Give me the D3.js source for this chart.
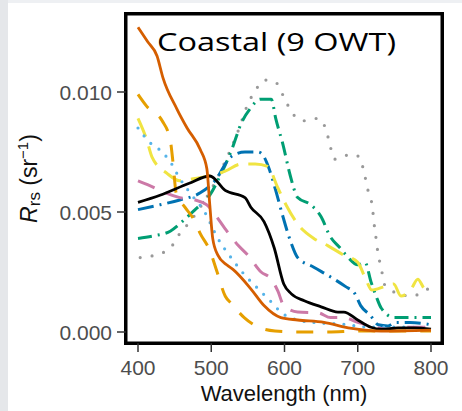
<!DOCTYPE html>
<html>
<head>
<meta charset="utf-8">
<script src="https://cdn.jsdelivr.net/npm/d3@7"></script>
<style>
  html, body { margin: 0; padding: 0; background: #fff; }
  svg { display: block; }
</style>
</head>
<body>
<svg id="chart" width="462" height="411"></svg>
<script>
// tick values
const xTicks = [400, 500, 600, 700, 800];
const yTicks = [0, 0.005, 0.010];

// one [wavelength, Rrs] list per water type
const rrsGray = [[403,.0031],[423,.0032],[444,.0035],[457,.0041],[471,.0046],[485,.0052],[501,.006],[519,.0071],[537,.0084],[550,.0095],[561,.0101],[572,.0105],[588,.0104],[599,.0098],[609,.0092],[625,.0088],[646,.0089],[657,.0084],[662,.0078],[668,.0072],[691,.0074],[702,.0073],[709,.0066],[714,.0059],[720,.0052],[722,.0046],[725,.0039],[728,.0032],[732,.0027],[736,.002],[755,.0016],[773,.0015],[796,.0018]];
const rrsGreen = [[400,.0039],[420,.004],[444,.0042],[464,.0047],[478,.0051],[498,.0057],[512,.0065],[528,.0076],[541,.0087],[553,.0093],[567,.0097],[582,.0097],[588,.0089],[598,.0078],[608,.0065],[618,.0056],[636,.0053],[650,.0048],[662,.004],[676,.0035],[687,.0031],[700,.0028],[710,.0029],[718,.0021],[725,.0015],[732,.001],[750,.0006],[771,.0006],[800,.0006]];
const rrsBlue = [[400,.0051],[430,.0053],[457,.0055],[485,.0058],[505,.0063],[527,.0073],[546,.0075],[564,.0075],[572,.0073],[579,.0068],[588,.0059],[597,.0049],[608,.0038],[618,.0031],[640,.0027],[668,.0022],[683,.0019],[696,.0016],[704,.0011],[717,.0007],[728,.0003],[741,.00025],[752,.0004],[771,.0004],[800,.0003]];
const rrsYellow = [[400,.0089],[412,.008],[419,.0073],[440,.0066],[457,.0063],[478,.0064],[498,.0065],[519,.0067],[541,.007],[560,.007],[577,.0069],[591,.006],[602,.0053],[618,.0045],[640,.0039],[659,.0036],[681,.0032],[700,.0029],[711,.0022],[719,.00175],[737,.0019],[749,.002],[759,.0015],[773,.0018],[782,.0022],[792,.0018],[800,.002]];
const rrsSky = [[400,.0085],[416,.0079],[433,.0075],[446,.007],[455,.0065],[471,.0058],[491,.005],[509,.0039],[527,.0031],[545,.0024],[564,.0018],[582,.00125],[595,.00083],[618,.0005],[646,.00038],[677,.00033],[718,.0002],[758,.0002],[800,.00017]];
const rrsPink = [[400,.0063],[416,.0061],[437,.0058],[457,.0056],[478,.0055],[494,.0053],[505,.0049],[519,.0043],[537,.0036],[550,.0032],[568,.0025],[582,.0022],[591,.0017],[599,.0011],[618,.00083],[646,.0008],[663,.0006],[681,.0006],[700,.0004],[728,.00017],[741,.0001],[769,.0002],[800,.0002]];
const rrsOrange = [[400,.0099],[412,.0094],[433,.0088],[444,.008],[448,.007],[452,.0058],[464,.0052],[476,.0047],[485,.0041],[498,.0034],[508,.0025],[519,.0015],[527,.0012],[545,.0006],[561,.00025],[587,.00004],[620,0],[660,0],[700,.00004],[760,.00004],[800,.00004]];
const rrsBlack = [[400,.0054],[430,.0057],[470,.0062],[498,.0065],[519,.0059],[546,.0056],[554,.0052],[572,.0046],[586,.0035],[599,.002],[609,.0016],[627,.0013],[650,.00105],[673,.00083],[681,.00083],[700,.0005],[718,.0002],[732,.00012],[755,.00017],[777,.00017],[800,.00012]];
const rrsVermillion = [[400,.0127],[413,.0121],[426,.0115],[434,.0106],[453,.0093],[467,.0085],[485,.0076],[494,.0068],[498,.0053],[502,.0039],[509,.0032],[521,.0028],[530,.0026],[554,.0018],[572,.0011],[595,.0006],[618,.0005],[654,.0004],[687,.00017],[732,.00004],[800,.00008]];

const svg = d3.select("#chart");

// light grey page edges from the screenshot
svg.append("rect").attr("width", 462).attr("height", 411).attr("fill", "#fff");
svg.append("rect").attr("width", 462).attr("height", 3).attr("fill", "#eef0f3");
svg.append("rect").attr("width", 8).attr("height", 411).attr("fill", "#e5e7ea");

const x = d3.scaleLinear().domain([400, 800]).range([138, 431]);
const y = d3.scaleLinear().domain([0, 0.010]).range([332, 92]);

const panel = { left: 125.75, top: 13.75, right: 442.25, bottom: 343.25 };

// line styles (Okabe-Ito palette)
const series = [
  { data: rrsGray,       color: "#999999", dash: "0 12",      cap: "round", w: 3.2 },
  { data: rrsGreen,      color: "#009E73", dash: "14 6 2 6",  cap: "butt",  w: 3 },
  { data: rrsBlue,       color: "#0072B2", dash: "16 6 2 6",  cap: "butt",  w: 3 },
  { data: rrsYellow,     color: "#F0E442", dash: "20 10",     cap: "butt",  w: 3 },
  { data: rrsSky,        color: "#56B4E9", dash: "0 10",      cap: "round", w: 3.2 },
  { data: rrsPink,       color: "#CC79A7", dash: "18 12",     cap: "butt",  w: 3 },
  { data: rrsOrange,     color: "#E69F00", dash: "17 14",     cap: "butt",  w: 3 },
  { data: rrsBlack,      color: "#000000", dash: null,        cap: "butt",  w: 2.8 },
  { data: rrsVermillion, color: "#D55E00", dash: null,        cap: "butt",  w: 2.8 }
];

const line = d3.line()
  .x(d => x(d[0]))
  .y(d => y(d[1]))
  .curve(d3.curveMonotoneX);

const lines = svg.append("g");
series.forEach(s => {
  lines.append("path")
    .attr("d", line(s.data))
    .attr("fill", "none")
    .attr("stroke", s.color)
    .attr("stroke-width", s.w)
    .attr("stroke-linecap", s.cap)
    .attr("stroke-linejoin", "round")
    .attr("stroke-dasharray", s.dash);
});

// panel border
svg.append("rect")
  .attr("x", panel.left).attr("y", panel.top)
  .attr("width", panel.right - panel.left)
  .attr("height", panel.bottom - panel.top)
  .attr("fill", "none")
  .attr("stroke", "#000")
  .attr("stroke-width", 3.5);

// axes
const axisFont = "'Liberation Sans', Arial, sans-serif";

const yAxis = svg.append("g");
yAxis.selectAll("line").data(yTicks).enter().append("line")
  .attr("x1", 117).attr("x2", panel.left)
  .attr("y1", d => y(d)).attr("y2", d => y(d))
  .attr("stroke", "#333").attr("stroke-width", 1.5);
yAxis.selectAll("text").data(yTicks).enter().append("text")
  .attr("x", 112).attr("y", d => y(d) + 8)
  .attr("text-anchor", "end")
  .style("font-family", axisFont).style("font-size", "21px")
  .attr("fill", "#4d4d4d")
  .text(d => d3.format(".3f")(d));

const xAxis = svg.append("g");
xAxis.selectAll("line").data(xTicks).enter().append("line")
  .attr("x1", d => x(d)).attr("x2", d => x(d))
  .attr("y1", panel.bottom).attr("y2", 352)
  .attr("stroke", "#333").attr("stroke-width", 1.5);
xAxis.selectAll("text").data(xTicks).enter().append("text")
  .attr("x", d => x(d)).attr("y", 375)
  .attr("text-anchor", "middle")
  .style("font-family", axisFont).style("font-size", "21px")
  .attr("fill", "#4d4d4d")
  .text(d => d);

// axis titles
svg.append("text")
  .attr("x", (panel.left + panel.right) / 2).attr("y", 401)
  .attr("text-anchor", "middle")
  .style("font-family", axisFont).style("font-size", "22px")
  .attr("fill", "#111")
  .text("Wavelength (nm)");

const yTitle = svg.append("text")
  .attr("transform", `translate(37,${(panel.top + panel.bottom) / 2}) rotate(-90)`)
  .attr("text-anchor", "middle")
  .style("font-family", axisFont).style("font-size", "23px")
  .attr("fill", "#111");
yTitle.append("tspan").style("font-style", "italic").text("R");
yTitle.append("tspan").attr("dy", 3).style("font-size", "17px").text("rs");
yTitle.append("tspan").attr("dy", -3).text(" (sr");
yTitle.append("tspan").attr("dy", -9).style("font-size", "15px").text("\u22121");
yTitle.append("tspan").attr("dy", 9).text(")");

// panel title
svg.append("text")
  .attr("x", 157).attr("y", 51)
  .style("font-family", "'Open Sans', sans-serif").style("font-size", "26px")
  .attr("fill", "#000")
  .attr("textLength", 239)
  .attr("lengthAdjust", "spacingAndGlyphs")
  .text("Coastal (9 OWT)");
</script>
</body>
</html>
